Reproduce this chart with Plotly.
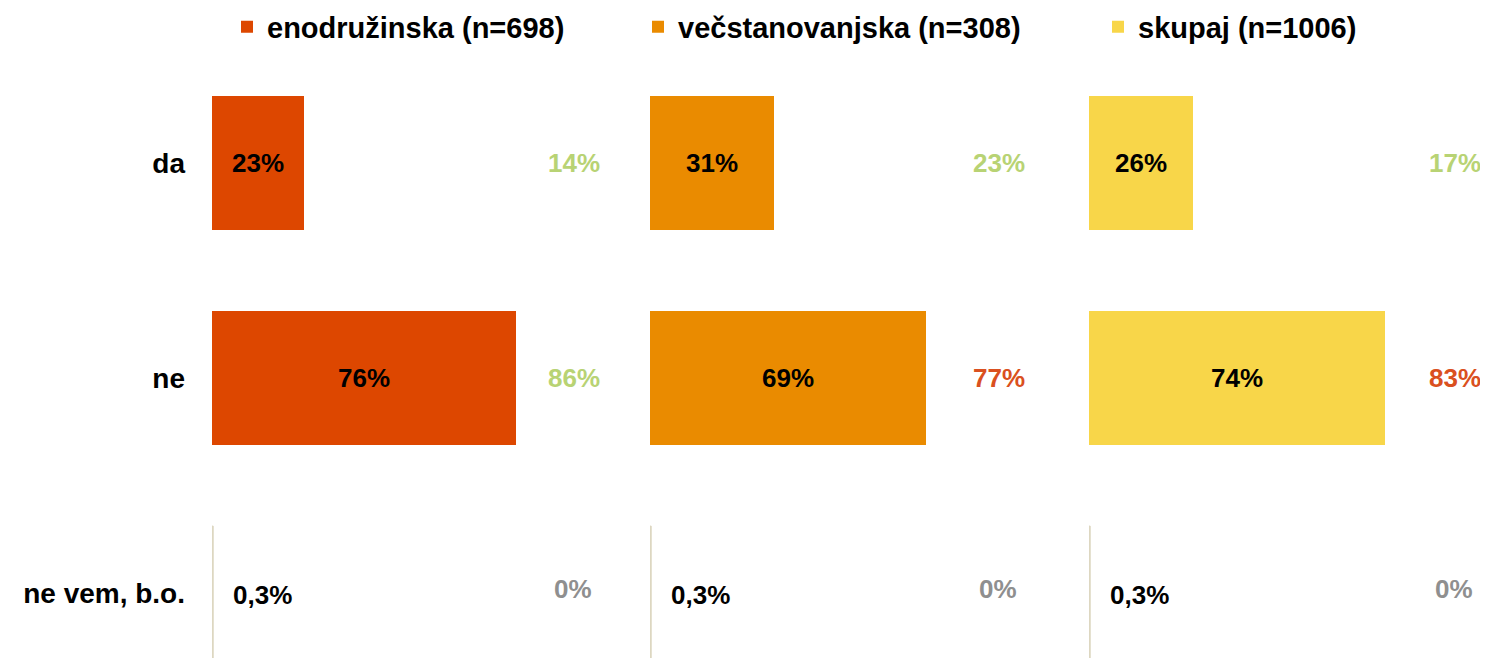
import plotly.graph_objects as go

# ---- data ----
categories = ["da", "ne", "ne vem, b.o."]
groups = ["enodružinska (n=698)", "večstanovanjska (n=308)", "skupaj (n=1006)"]
vals_eno = [23, 76, 0.3]
vals_vec = [31, 69, 0.3]
vals_sku = [26, 74, 0.3]
cmp_eno = [14, 86, 0]
cmp_vec = [23, 77, 0]
cmp_sku = [17, 83, 0]
cmp_kind_eno = ["up", "up", "zero"]
cmp_kind_vec = ["up", "down", "zero"]
cmp_kind_sku = ["up", "down", "zero"]

# ---- style ----
FONT = "Liberation Sans, Arial, sans-serif"
FS_DATA = 26
FS_CAT = 28
FS_LEG = 29
OFF = 8                       # page body margin
W, H = 1488 - OFF, 658 - OFF
TOP = 55 - OFF
bar_colors = ["#DD4700", "#EA8B00", "#F8D649"]
small_color = "#DDD7C1"
kind_colors = {"up": "#B8D374", "down": "#DA5020", "zero": "#8F8F8F"}
dom_px = [(212 - OFF, 612 - OFF), (650 - OFF, 1050 - OFF), (1089 - OFF, 1488 - OFF)]
cmp_xpos = [97.5, 94.25, 98.5]
legend_x_px = [241 - OFF - 14, 652 - OFF - 14, 1112 - OFF - 14]
legend_y_px = 27 - OFF
Y_RANGE = [2.302, -0.502]

series = [vals_eno, vals_vec, vals_sku]
cmps = [cmp_eno, cmp_vec, cmp_sku]
kinds = [cmp_kind_eno, cmp_kind_vec, cmp_kind_sku]


def fmt(v):
    s = f"{v:g}".replace(".", ",")
    return s + "%"


fig = go.Figure()
annotations = []
for i, (name, vals) in enumerate(zip(groups, series)):
    xa = "x" if i == 0 else f"x{i+1}"
    cols = [bar_colors[i] if v >= 1 else small_color for v in vals]
    fig.add_trace(go.Bar(
        y=categories, x=vals, orientation="h", name=f"<b>{name}</b>",
        xaxis=xa, yaxis="y",
        marker=dict(color=cols, line=dict(color=cols, width=[0, 0, 1])),
        text=[f"<b>{fmt(v)}</b>" if v >= 1 else "" for v in vals],
        textposition="inside", insidetextanchor="middle",
        insidetextfont=dict(color="black", size=FS_DATA, family=FONT),
        legend="legend" if i == 0 else f"legend{i+1}",
        showlegend=True,
        hoverinfo="skip",
    ))
    # small value labels
    for c, v in zip(categories, vals):
        if v < 1:
            annotations.append(dict(
                x=v, y=c, xref=xa, yref="y", text=f"<b>{fmt(v)}</b>",
                showarrow=False, xanchor="left", xshift=18, yshift=-2,
                font=dict(size=FS_DATA, family=FONT, color="black")))
    # comparison labels
    for c, v, k in zip(categories, cmps[i], kinds[i]):
        annotations.append(dict(
            x=cmp_xpos[i], y=c, xref=xa, yref="y", text=f"<b>{fmt(v)}</b>",
            showarrow=False, xanchor="right",
            xshift=-8 if k == "zero" else 0, yshift=4 if k == "zero" else 0,
            font=dict(size=FS_DATA, family=FONT, color=kind_colors[k])))

layout = dict(
    width=W, height=H,
    showlegend=True,
    margin=dict(l=0, r=0, t=TOP, b=0, pad=0, autoexpand=False),
    plot_bgcolor="white", paper_bgcolor="white",
    font=dict(family=FONT, size=FS_DATA, color="black"),
    bargap=0.377,
    annotations=annotations,
    yaxis=dict(range=Y_RANGE, showgrid=False, zeroline=False,
               showline=False, ticks="", automargin=False,
               tickfont=dict(size=FS_CAT, family=FONT, color="black"),
               ticklabelstandoff=26,
               tickvals=categories,
               ticktext=[f"<b>{c}</b>" for c in categories]),
)
for i, (a, b) in enumerate(dom_px):
    key = "xaxis" if i == 0 else f"xaxis{i+1}"
    rng = [0, (b - a) / 4.0]
    layout[key] = dict(domain=[a / W, b / W], range=rng, anchor="y",
                       showgrid=False, zeroline=False, showline=False,
                       showticklabels=False, ticks="", automargin=False,
                       fixedrange=True)
    lkey = "legend" if i == 0 else f"legend{i+1}"
    layout[lkey] = dict(x=legend_x_px[i] / W, xanchor="left", xref="container",
                        y=1 - legend_y_px / H, yanchor="middle", yref="container",
                        orientation="h", bgcolor="rgba(0,0,0,0)",
                        font=dict(size=FS_LEG, family=FONT, color="black"))
fig.update_layout(**layout)
fig.write_html("out.html")
